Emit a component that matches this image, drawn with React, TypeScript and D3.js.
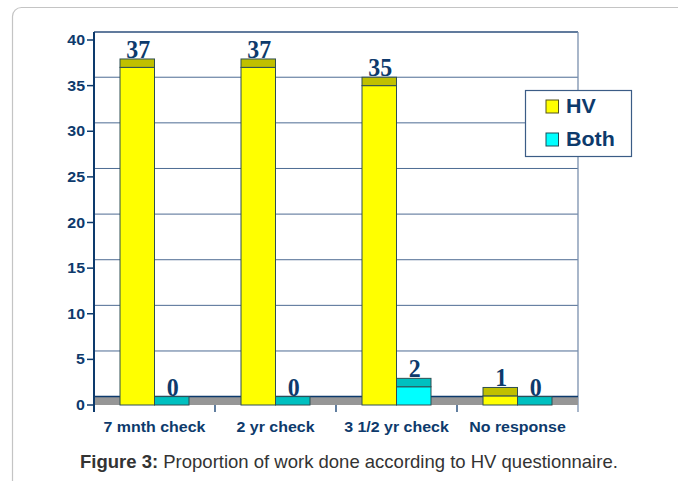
import React from "react";
import * as d3 from "d3";

const categories = ["7 mnth check", "2 yr check", "3 1/2 yr check", "No response"];
const seriesNames = ["HV", "Both"];
const hvValues = [37, 37, 35, 1];
const bothValues = [0, 0, 2, 0];
const yTicks = [0, 5, 10, 15, 20, 25, 30, 35, 40];
const captionBold = "Figure 3:";
const captionText = " Proportion of work done according to HV questionnaire.";

const W = 678;
const H = 481;
const left = 94;
const right = 578;
const top = 32;
const bottom = 405;
const depth = 8.4;
const navy = "#0d3a6c";
const grid = "#4d6b93";
const frontColors: Record<string, string> = { HV: "#ffff00", Both: "#00ffff" };
const topColors: Record<string, string> = { HV: "#c0c000", Both: "#00c0c0" };
const barStroke = "#2e4e52";
const sans = "'Liberation Sans', Arial, sans-serif";
const serif = "'Liberation Serif', 'Times New Roman', serif";

export default function App() {
  const x = d3.scaleBand<string>().domain(categories).range([left, right]);
  const xs = d3
    .scaleBand<string>()
    .domain(seriesNames)
    .range([0, x.bandwidth()])
    .paddingInner(0)
    .paddingOuter(0.754);
  const y = d3.scaleLinear().domain([0, 40]).range([bottom, 40]);

  const rows = categories.map((c, i) => ({
    cat: c,
    vals: [
      { s: "HV", v: hvValues[i] },
      { s: "Both", v: bothValues[i] },
    ],
  }));

  const stretch = (
    tx: number,
    ty: number,
    sx: number,
    anchor: "start" | "middle" | "end",
    size: number,
    text: string,
    color: string,
    family = sans,
    weight = "bold"
  ) => (
    <text
      transform={`translate(${tx},${ty}) scale(${sx},1)`}
      textAnchor={anchor}
      fontFamily={family}
      fontWeight={weight}
      fontSize={size}
      fill={color}
    >
      {text}
    </text>
  );

  return (
    <svg
      width={W}
      height={H}
      style={{ position: "absolute", left: 0, top: 0, background: "#fff" }}
    >
      {/* outer frame */}
      <rect x={12.5} y={7.5} width={720} height={520} rx={9} fill="#fff" stroke="#c4c4c4" strokeWidth={1.2} />

      {/* back-wall gridlines */}
      {yTicks
        .filter((t) => t > 0 && t < 40)
        .map((t) => (
          <line key={t} x1={left} x2={right} y1={y(t) - depth} y2={y(t) - depth} stroke={grid} strokeWidth={1} />
        ))}
      {/* plot border top / right */}
      <line x1={left} x2={right} y1={top} y2={top} stroke={"#2c4f7c"} strokeWidth={1.5} />
      <line x1={right} x2={right} y1={top} y2={bottom} stroke={"#7a90ae"} strokeWidth={1.3} />

      {/* floor */}
      <rect x={left} y={y(0) - depth} width={right - left} height={depth} fill="#969696" />
      <line x1={left} x2={right} y1={y(0) - depth} y2={y(0) - depth} stroke={navy} strokeWidth={1.5} />

      {/* bars */}
      {rows.map((r) =>
        r.vals.map((d) => {
          const bx = (x(r.cat) ?? 0) + (xs(d.s) ?? 0);
          const bw = xs.bandwidth();
          const yv = y(d.v);
          return (
            <g key={r.cat + d.s}>
              {d.v > 0 && (
                <rect x={bx} y={yv} width={bw} height={y(0) - yv} fill={frontColors[d.s]} stroke={barStroke} strokeWidth={1} />
              )}
              <rect x={bx} y={yv - depth} width={bw} height={depth} fill={topColors[d.s]} stroke={barStroke} strokeWidth={1} />
            </g>
          );
        })
      )}

      {/* data labels */}
      {rows.map((r) =>
        r.vals.map((d) => {
          const bx = (x(r.cat) ?? 0) + (xs(d.s) ?? 0) + xs.bandwidth() / 2;
          return (
            <g key={"l" + r.cat + d.s}>
              {stretch(bx + 1, y(d.v) - depth - 1, 0.92, "middle", 26, String(d.v), navy, serif, "bold")}
            </g>
          );
        })
      )}

      {/* y axis */}
      <line x1={left} x2={left} y1={top} y2={bottom + 7} stroke={navy} strokeWidth={2} />
      {yTicks.map((t) => (
        <g key={"yt" + t}>
          <line x1={left - 7} x2={left} y1={y(t)} y2={y(t)} stroke={navy} strokeWidth={1.5} />
          {stretch(left - 9, y(t) + 5, 1.1, "end", 14.5, String(t), navy)}
        </g>
      ))}

      {/* x axis ticks */}
      {[...categories.map((c) => x(c) ?? 0), right].map((px, i) => (
        <line key={"xt" + i} x1={px} x2={px} y1={bottom} y2={bottom + 7} stroke={i === categories.length ? "#7a90ae" : navy} strokeWidth={1.3} />
      ))}
      {categories.map((c) => (
        <g key={"xl" + c}>{stretch((x(c) ?? 0) + x.bandwidth() / 2, 432, 1.1, "middle", 14.5, c, navy)}</g>
      ))}

      {/* legend */}
      <rect x={525.5} y={90.5} width={106} height={66} fill="#fff" stroke="#3b5c86" strokeWidth={1.2} />
      {seriesNames.map((s, i) => (
        <g key={"lg" + s}>
          <rect x={546} y={100 + i * 33} width={12.5} height={13} fill={frontColors[s]} stroke={s === "HV" ? "#55551c" : "#1c4f5a"} strokeWidth={1} />
          {stretch(566, 113.3 + i * 33, 1.1, "start", 19.5, s, navy)}
        </g>
      ))}

      {/* caption */}
      <text x={80} y={467.5} fontFamily={sans} fontSize={18.5} fill="#333">
        <tspan fontWeight="bold">{captionBold}</tspan>
        <tspan>{captionText}</tspan>
      </text>
    </svg>
  );
}
